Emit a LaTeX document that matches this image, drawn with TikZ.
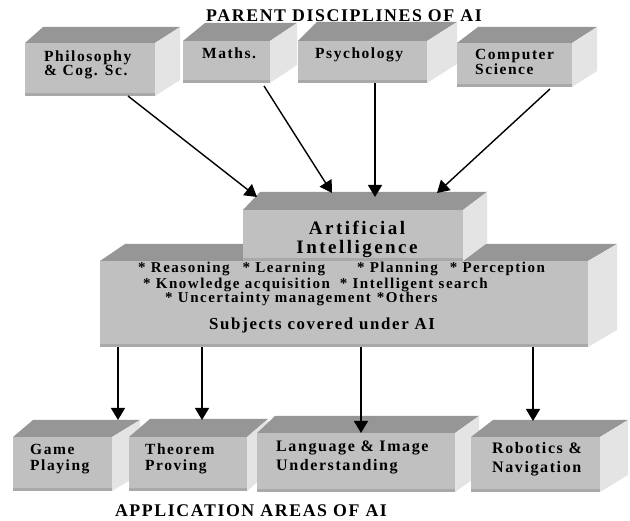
\documentclass[tikz,border=0pt]{standalone}
\usepackage{fontspec}
\setmainfont{Liberation Serif}[LetterSpace=10]
\usetikzlibrary{arrows.meta,calc}
\definecolor{frontc}{HTML}{C0C0C0}
\definecolor{topc}{HTML}{969696}
\definecolor{sidec}{HTML}{E4E4E4}
\definecolor{stripc}{HTML}{A9A9A9}
\tikzset{
  frontface/.style={fill=frontc, draw=none, inner sep=0pt, outer sep=0pt},
  lbl/.style={inner sep=0pt, font=\bfseries\fontsize{15.5}{14}\selectfont, align=left, anchor=base west},
  lblbig/.style={inner sep=0pt, font=\bfseries\fontsize{16}{19}\selectfont, align=left, anchor=base west},
  ailbl/.style={inner sep=0pt, font=\bfseries\fontsize{19}{19.5}\selectfont\addfontfeature{LetterSpace=13}, align=center, anchor=base},
  sublbl/.style={inner sep=0pt, font=\bfseries\fontsize{15}{15}\selectfont, anchor=base west},
  ttl/.style={inner sep=0pt, font=\bfseries\fontsize{17.8}{17.8}\selectfont\addfontfeature{LetterSpace=9}, anchor=base},
  arr/.style={-{Triangle[length=12pt,width=14pt]}, line width=1.4pt, black}
}
% #1 name, #2 x1, #3 y1, #4 x2, #5 y2, #6 left depth, #7 right depth, #8 rise
\newcommand\cuboid[8]{%
  \node[frontface, minimum width={(#4-#2)*1pt}, minimum height={(#5-#3)*1pt}] (#1) at ({(#2+#4)/2},{(#3+#5)/2}) {};
  \fill[topc] (#1.north west) -- ++(#6,-#8) -- ($(#1.north east)+(#7,-#8)$) -- (#1.north east) -- cycle;
  \fill[sidec] (#1.north east) -- ++(#7,-#8) -- ($(#1.south east)+(#7,-#8)$) -- (#1.south east) -- cycle;
  \fill[stripc] ($(#1.south west)+(0,-3)$) rectangle (#1.south east);
}
\begin{document}
\begin{tikzpicture}[x=1pt,y=-1pt]
\useasboundingbox (0,0) rectangle (630,521);
\fill[white] (0,0) rectangle (630,521);

\node[ttl] (title) at (344,22) {PARENT DISCIPLINES OF AI};

% parent disciplines
\cuboid{phil}{25}{43}{155}{96}{18}{25}{16}
\cuboid{maths}{183}{41}{270}{83}{22}{27}{18}
\cuboid{psych}{298}{41}{427}{83}{19}{30}{19}
\cuboid{comp}{457}{43}{572}{87}{21}{25}{16}

\node[lbl] (tphil) at (44,76) {Philosophy\\\& Cog. Sc.};
\node[lbl] (tmaths) at (202,59) {Maths.};
\node[lbl] (tpsych) at (315,59) {Psychology};
\node[lbl, font=\bfseries\fontsize{15.5}{15}\selectfont] (tcomp) at (475,75) {Computer\\Science};

% subjects box and AI box
\cuboid{big}{100}{261}{588}{347}{25}{29}{17}
\cuboid{ai}{243}{210}{463}{261}{17}{24}{18}

\node[ailbl] (tai) at (357,254) {Artificial\\Intelligence};

\node[sublbl] (s1) at (138,273) {* Reasoning\hspace{13pt}* Learning\hspace{32pt}* Planning\hspace{12pt}* Perception};
\node[sublbl] (s2) at (143,289) {* Knowledge acquisition\hspace{10pt}* Intelligent search};
\node[sublbl] (s3) at (165,303) {* Uncertainty management\hspace{6pt}*Others};
\node[sublbl, font=\bfseries\fontsize{16.8}{16}\selectfont] (s4) at (209,330) {Subjects covered under AI};

% application areas
\cuboid{game}{13}{437}{112}{491}{20}{28}{17}
\cuboid{thm}{129}{437}{247}{491}{21}{21}{18}
\cuboid{lang}{257}{433}{455}{492}{18}{24}{17}
\cuboid{robo}{471}{437}{600}{492}{22}{28}{17}

\node[lbl, font=\bfseries\fontsize{15.5}{16}\selectfont] (tgame) at (30,471) {Game\\Playing};
\node[lbl, font=\bfseries\fontsize{15.5}{16}\selectfont] (tthm) at (145,471) {Theorem\\Proving};
\node[lblbig] (tlang) at (276,471) {Language \& Image\\Understanding};
\node[lblbig] (trobo) at (492,473) {Robotics \&\\Navigation};

\node[ttl] (bottom) at (251,517) {APPLICATION AREAS OF AI};

% arrows into AI
\coordinate (e1) at (257,197);
\coordinate (e2) at (332,193);
\coordinate (e3) at (375,197);
\coordinate (e4) at (437,193);
\draw[arr] ([xshift=-27pt]phil.south east) -- (e1);
\draw[arr] ([xshift=-6pt,yshift=-3pt]maths.south east) -- (e2);
\draw[arr] (psych.south -| e3) -- (e3);
\draw[arr] ([xshift=-22pt,yshift=-2pt]comp.south east) -- (e4);

% arrows to applications
\coordinate (g1) at (118,420);
\coordinate (g2) at (202,420);
\coordinate (g3) at (361,433);
\coordinate (g4) at (533,421);
\draw[arr] (big.south -| g1) -- (g1);
\draw[arr] (big.south -| g2) -- (g2);
\draw[arr] (big.south -| g3) -- (g3);
\draw[arr] (big.south -| g4) -- (g4);
\end{tikzpicture}
\end{document}
